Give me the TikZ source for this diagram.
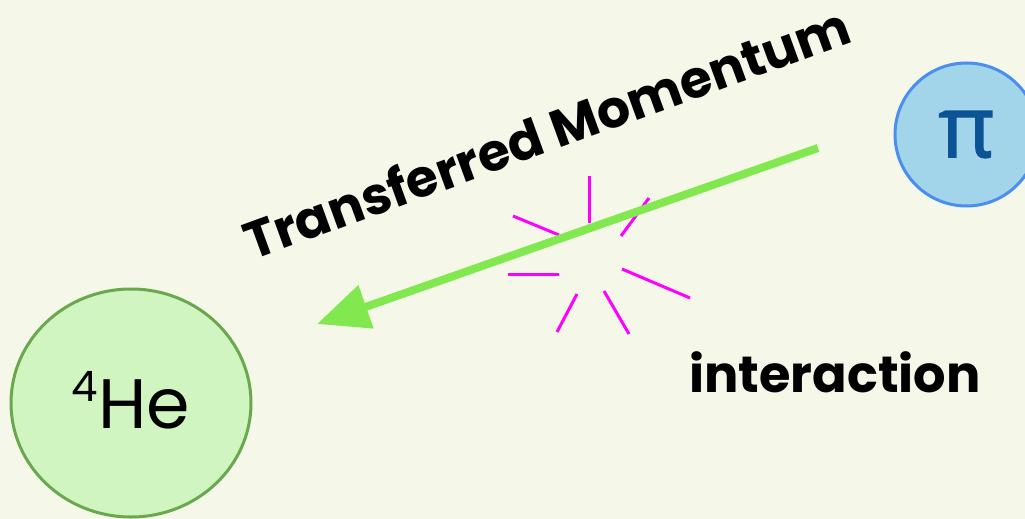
\documentclass[tikz,border=0pt]{standalone}
\usepackage{fontspec}
\setmainfont{Poppins}
\newfontfamily\pifont[FakeBold=1.6]{Open Sans}
\usetikzlibrary{arrows.meta,shapes.geometric}
\definecolor{bgc}{RGB}{245,248,232}
\definecolor{arrowgreen}{RGB}{130,232,80}
\definecolor{burst}{RGB}{255,0,255}
\definecolor{pifill}{RGB}{163,213,234}
\definecolor{piedge}{RGB}{74,142,240}
\definecolor{pitext}{RGB}{11,83,148}
\definecolor{hefill}{RGB}{208,245,192}
\definecolor{heedge}{RGB}{106,168,79}
\tikzset{
  burstline/.style={draw=burst, line width=3pt},
  label/.style={font=\fontsize{51}{56}\selectfont\bfseries, text=black, inner sep=0pt},
}
\begin{document}
\begin{tikzpicture}[x=1pt,y=-1pt]
\useasboundingbox (0,0) rectangle (1025,519);
\clip (0,0) rectangle (1025,519);
\fill[bgc] (0,0) rectangle (1025,519);
% particles
\node[ellipse, draw=heedge, fill=hefill, line width=3pt, minimum width=240pt, minimum height=228pt, inner sep=0pt] (he) at (131,403) {};
\node[anchor=base, inner sep=0pt, font=\fontsize{70}{72}\selectfont] (helabel) at (131,428) {\raisebox{27pt}{\fontsize{42}{44}\selectfont 4}He};
\node[circle, draw=piedge, fill=pifill, line width=3pt, minimum size=143pt, inner sep=0pt,
      text=pitext, font=\pifont\fontsize{86}{90}\selectfont] (pi) at (966.5,134.5) {π};
% burst
\draw[burstline] (513,216) -- (559,235);
\draw[burstline] (589,176) -- (589,223);
\draw[burstline] (649,198) -- (621,236);
\draw[burstline] (508,274) -- (559,274);
\draw[burstline] (622,269) -- (690,298);
\draw[burstline] (604,291) -- (629,334);
\draw[burstline] (577,294) -- (557,332);
% arrow
\coordinate (astart) at (818,148);
\coordinate (aend) at (317,324);
\draw[draw=arrowgreen, line width=8pt, -{Triangle[length=52pt,width=44pt]}] (astart) -- (aend);
% labels
\node[label, anchor=base, rotate=20, font=\fontsize{52}{56}\selectfont\bfseries] (tm) at (553,151) {Transferred Momentum};
\node[label, anchor=base west] (inter) at (689,392) {interaction};
\end{tikzpicture}
\end{document}
